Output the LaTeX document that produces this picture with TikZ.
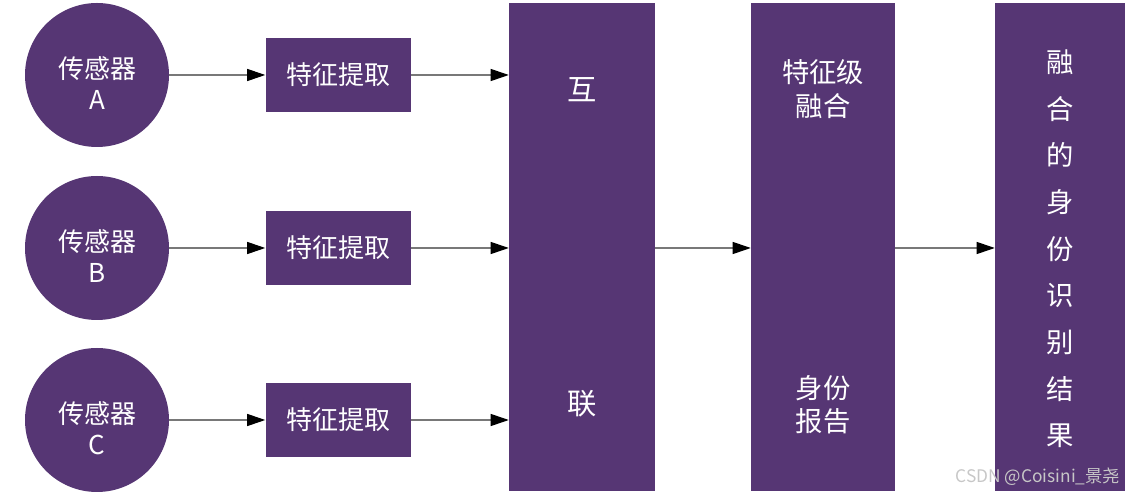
\documentclass[tikz,border=0pt]{standalone}
\usepackage{fontspec}
\setmainfont{Noto Sans CJK SC}
\usepackage{xcolor}
\usepackage{tikz}
\usetikzlibrary{positioning,arrows.meta}

\definecolor{fusepurple}{RGB}{86,54,116}
\definecolor{linkgray}{RGB}{120,120,120}

\tikzset{
  sensor/.style={circle, fill=fusepurple, text=white, minimum size=108pt, inner sep=0pt,
    align=center, font=\fontsize{19.5}{23}\selectfont},
  extract/.style={rectangle, fill=fusepurple, text=white, minimum width=108.75pt,
    minimum height=55.5pt, inner sep=0pt, font=\fontsize{19.5}{22}\selectfont},
  bar/.style={rectangle, fill=fusepurple, minimum height=366pt, inner sep=0pt},
  bartext/.style={text=white, align=center, inner sep=0pt},
  flow/.style={draw=linkgray, line width=0.8pt, -{Triangle[length=13.5pt,width=9pt,fill=black,color=black]}}
}

\begin{document}
\begin{tikzpicture}[x=0.75pt, y=-0.75pt]
\useasboundingbox (0,0) rectangle (1139,498);

% the three bars
\node[bar, minimum width=109.5pt](link) at (582,247) {};
\node[bar, minimum width=108pt](fuse) at (823,247) {};
\node[bar, minimum width=97.5pt](result) at (1060,247) {};

\node[bartext, font=\fontsize{22}{24}\selectfont](hu) at (582,90) {互};
\node[bartext, font=\fontsize{22}{24}\selectfont](lian) at (582,404) {联};

\node[bartext, font=\fontsize{20.5}{25}\selectfont](fusetop) at (823,89) {特征级\\融合};
\node[bartext, font=\fontsize{20.5}{25}\selectfont](fusebot) at (823,405) {身份\\报告};

\node[bartext, font=\fontsize{20.5}{35}\selectfont](restext) at (1060,249)
  {融\\合\\的\\身\\份\\识\\别\\结\\果};

% sensors and feature extraction
\foreach \name/\y in {A/75, B/248, C/420} {
  \node[sensor](s\name) at (97,\y) {};
  \node[text=white, align=center, font=\fontsize{19.5}{23}\selectfont](l\name) at (97,\y+8) {传感器\\\name};
  \node[extract](f\name) at (338,\y) {特征提取};
  \draw[flow] (s\name) -- (f\name);
  \draw[flow] (f\name) -- (f\name -| link.west);
}

\draw[flow] (link.east |- fB) -- (fuse.west |- fB);
\draw[flow] (fuse.east |- fB) -- (result.west |- fB);

\node[anchor=east, text=black!22, font=\fontsize{13}{15}\selectfont](mark) at (1125,477) {CSDN @Coisini\_景尧};

\end{tikzpicture}
\end{document}
